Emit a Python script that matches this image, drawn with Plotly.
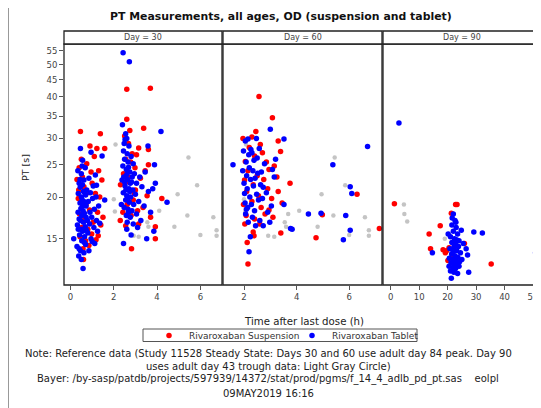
import plotly.graph_objects as go

# ---------------- data (time after last dose [h], PT [s]) ----------------
SUSP_D30 = [(0.46,31.5),(1.38,31.0),(0.90,28.5),(1.22,28.0),(1.58,28.0),(0.50,26.0),(0.75,25.2),(1.10,26.5),
            (0.40,24.5),(0.55,23.0),(0.95,23.8),(1.30,24.0),(0.38,21.0),(0.62,21.5),(1.00,22.0),(1.45,22.5),
            (0.48,19.5),(0.72,19.0),(1.15,20.5),(1.35,20.0),(0.42,17.8),(0.66,17.2),(0.88,18.3),(1.25,18.0),
            (0.52,16.2),(0.80,16.0),(1.05,16.8),(1.40,16.5),(0.44,15.2),(0.70,14.8),(0.98,15.5),(1.28,15.3),
            (0.58,14.0),(0.85,14.3),(0.60,13.0),(0.36,19.8),(0.30,22.6),(1.50,17.4),(0.78,20.6),(1.18,14.9),
            (2.60,42.2),(3.69,42.5),(2.60,34.3),(2.74,31.7),(3.38,32.2),(2.50,30.5),(3.15,28.1),(3.60,27.8),
            (2.68,29.0),(2.85,27.0),(2.55,26.0),(2.98,24.5),(3.60,25.0),(2.78,25.5),(2.45,23.5),(3.23,22.8),
            (2.31,21.8),(2.70,22.2),(3.00,21.0),(3.54,20.2),(4.22,19.8),(2.90,19.6),(2.62,19.0),(3.35,18.6),
            (2.42,18.0),(2.80,17.6),(3.10,18.2),(2.30,17.0),(3.15,16.6),(3.92,16.3),(2.55,16.4),(3.92,15.0),
            (2.82,14.0),(3.70,17.4),(2.95,20.5),(3.45,24.0),(2.65,23.0),(3.05,26.8)]
TAB_D30 = [(0.15,15.0),(0.30,14.2),(0.32,16.5),(0.35,18.0),(0.36,20.5),(0.38,13.3),(0.40,22.0),(0.40,17.2),
           (0.42,15.4),(0.44,19.2),(0.45,21.4),(0.46,28.0),(0.46,13.8),(0.48,16.0),(0.48,18.5),(0.50,20.0),
           (0.50,23.5),(0.52,14.8),(0.52,17.6),(0.54,19.6),(0.55,21.8),(0.56,15.8),(0.58,12.2),(0.58,18.2),
           (0.60,16.8),(0.60,20.8),(0.62,13.6),(0.62,22.5),(0.64,17.9),(0.65,15.2),(0.66,19.0),(0.68,24.5),
           (0.68,16.3),(0.70,14.4),(0.70,20.3),(0.72,18.8),(0.75,21.0),(0.78,17.0),(0.80,15.6),(0.82,19.4),
           (0.85,22.8),(0.88,16.6),(0.90,18.0),(0.92,20.6),(0.95,27.3),(0.95,15.0),(0.98,17.4),(1.00,14.7),
           (1.02,19.8),(1.05,21.6),(1.08,16.2),(1.10,18.4),(1.12,14.5),(1.15,23.3),(1.18,20.0),(1.20,17.0),
           (1.25,15.8),(1.46,26.6),(1.58,19.6),(1.30,18.8),(1.35,16.7),(1.20,21.7),(0.85,13.8),(0.34,24.0),
           (0.56,25.8),(0.40,14.0),(0.50,13.0),(0.64,14.6),(0.74,15.9),(0.36,16.0),(0.46,17.0),(0.56,18.8),
           (0.66,20.6),(0.44,22.6),(0.54,24.8),(0.72,17.4),(0.62,19.4),
           (2.43,54.3),(2.72,51.0),(2.40,33.0),(2.55,31.0),(2.60,30.0),(2.48,29.0),(2.70,28.5),(3.58,28.5),
           (4.18,31.5),(2.45,27.5),(2.62,27.0),(2.80,26.5),(2.50,26.0),(2.66,25.5),(2.90,25.2),(3.88,25.0),
           (2.42,24.8),(2.58,24.2),(2.74,23.8),(2.95,23.5),(3.20,23.0),(2.46,23.0),(2.64,22.6),(2.82,22.2),
           (3.05,22.0),(3.92,22.0),(2.52,21.6),(2.70,21.2),(2.88,21.0),(3.30,21.5),(2.44,20.6),(2.60,20.2),
           (2.78,20.0),(3.00,20.4),(3.60,20.8),(2.55,19.6),(2.72,19.3),(2.92,19.0),(3.15,19.4),(4.46,19.3),
           (2.48,18.6),(2.66,18.4),(2.84,18.2),(3.40,18.8),(2.58,17.6),(2.76,17.4),(3.05,17.8),(3.70,18.0),
           (2.62,16.8),(2.90,16.6),(3.25,17.0),(2.60,16.0),(3.85,15.8),(3.52,15.0),(2.45,14.5),(2.80,15.4),
           (3.10,16.2),(2.38,22.5),(2.35,19.0),(3.45,23.8),(3.80,21.2),(2.52,29.8),(2.68,24.6),(2.85,23.0),
           (2.56,21.0),(2.64,19.8),(2.74,20.8),(2.50,22.2),(2.60,23.4),(2.76,22.0),(2.68,18.0)]

SUSP_D60 = [(2.57,40.1),(3.08,34.6),(2.45,31.5),(1.96,30.0),(2.30,30.3),(3.30,29.5),(2.62,28.8),(3.39,27.4),
            (2.20,28.2),(2.40,26.6),(2.70,27.2),(2.05,25.6),(2.85,25.5),(3.15,24.8),(2.15,24.0),(2.50,23.2),
            (2.95,24.2),(3.75,22.0),(2.02,22.5),(2.35,21.8),(2.75,22.6),(3.25,23.0),(2.10,20.8),(2.55,20.2),
            (2.90,21.2),(3.30,20.8),(1.98,19.0),(2.30,19.4),(2.65,18.6),(3.05,19.8),(3.45,19.2),(2.08,17.6),
            (2.40,17.2),(2.80,17.8),(3.10,17.4),(2.03,16.6),(2.35,15.7),(2.38,15.3),(3.40,15.6),(4.74,15.1),
            (4.98,17.7),(6.30,20.4),(7.15,16.1),(2.15,12.6),(2.12,14.6),(2.60,16.6),(2.95,18.3)]
TAB_D60 = [(1.58,25.0),(1.95,24.0),(1.98,27.5),(2.00,22.0),(2.02,20.5),(2.04,19.2),(2.05,29.5),(2.06,17.8),
           (2.08,25.5),(2.10,23.2),(2.12,21.2),(2.14,18.6),(2.15,29.9),(2.16,16.8),(2.18,26.8),(2.19,13.7),
           (2.20,24.5),(2.22,20.0),(2.24,15.2),(2.25,22.6),(2.28,19.0),(2.30,27.2),(2.32,17.4),(2.34,24.0),
           (2.36,21.6),(2.38,25.8),(2.40,18.2),(2.42,22.8),(2.44,16.4),(2.47,30.0),(2.48,20.4),(2.50,26.2),
           (2.52,23.6),(2.55,19.6),(2.58,28.0),(2.60,17.0),(2.63,21.8),(2.66,23.8),(2.70,19.8),(2.73,21.4),
           (2.73,16.4),(2.78,25.2),(2.85,20.6),(2.90,18.0),(2.98,16.8),(3.00,32.0),(3.04,18.8),(3.08,24.2),
           (3.15,23.0),(3.20,26.0),(3.52,29.9),(3.52,19.0),(3.77,16.1),(3.83,16.0),(4.45,17.8),(4.93,17.9),
           (5.38,25.0),(5.78,14.9),(5.87,17.6),(6.04,15.9),(6.04,21.5),(6.10,20.5),(6.70,28.4),(2.26,27.8),
           (2.09,18.4)]

SUSP_D90 = [(1.3,19.1),(22.8,19.0),(23.3,19.0),(21.3,17.9),(17.4,16.4),(13.5,15.5),(14.0,14.0),(18.4,13.9),
            (19.6,13.8),(20.1,12.9),(25.9,14.5),(35.3,12.6),(21.5,13.2),(20.5,14.1),(19.2,13.6),(23.6,12.7)]
TAB_D90 = [(2.9,33.4),(14.65,13.6),(50.9,13.6),(29.2,15.7),(32.2,15.6),(27.4,11.9),(21.3,11.4),(26.5,14.0),
           (27.0,13.4),(22.0,17.8),(22.6,17.0),(21.5,16.5),(23.0,16.2),(22.0,15.8),(23.5,15.5),(21.0,15.2),
           (22.4,15.0),(24.0,14.8),(21.5,14.6),(22.8,14.5),(23.8,14.2),(20.8,14.0),(22.2,13.9),(23.2,13.8),
           (24.5,13.6),(21.4,13.5),(22.6,13.3),(23.6,13.2),(20.6,13.1),(22.0,13.0),(23.0,12.9),(24.2,12.8),
           (21.2,12.7),(22.4,12.6),(23.4,12.5),(20.5,12.4),(21.8,12.3),(22.8,12.2),(24.0,12.4),(21.0,12.0),
           (22.2,11.9),(23.5,11.8),(25.0,13.0),(25.5,14.5),(20.2,15.5),(22.9,16.8),(21.6,17.3),(24.8,15.9),
           (22.3,14.2),(23.1,14.9),(21.9,13.6)]

# reference data (light gray circles): adult day 84 peak (Days 30/60), day 43 trough (Day 90)
REF_PEAK = [(2.0,19.7),(2.05,18.1),(2.08,28.8),(2.92,15.3),(3.15,15.2),(3.55,16.8),(3.6,16.3),(3.68,17.8),
            (4.1,18.2),(4.8,16.3),(4.95,20.4),(5.4,17.6),(5.45,26.3),(5.85,21.7),(6.0,15.4),(6.6,17.4),
            (6.75,15.9),(6.75,15.3)]
REF_TROUGH = [(4.65,19.0),(4.8,17.8),(5.8,16.9),(19.0,15.0)]

DAYS = ["Day = 30", "Day = 60", "Day = 90"]
Y_TICKS = [15, 20, 25, 30, 35, 40, 45, 50, 55]
X_TICKS = [[0, 2, 4, 6], [2, 4, 6], [0, 10, 20, 30, 40, 50]]
X_RANGES = [[-0.3, 7.0], [1.2, 7.25], [-2.7, 52.8]]

TITLE = "PT Measurements, all ages, OD (suspension and tablet)"
NOTES = ["Note: Reference data (Study 11528 Steady State: Days 30 and 60 use adult day 84 peak. Day 90",
         "uses adult day 43 trough data: Light Gray Circle)",
         "Bayer: /by-sasp/patdb/projects/597939/14372/stat/prod/pgms/f_14_4_adlb_pd_pt.sas    eolpl",
         "09MAY2019 16:16"]

# ---------------- layout helpers ----------------
# page has an 8px body margin: figure covers page pixels 8..541 x 8..408
OFF = 8
W, H = 541 - OFF, 408 - OFF
def px(x): return (x - OFF) / W
def py(y): return 1 - (y - OFF) / H

FONT = "DejaVu Sans, Verdana, sans-serif"
panels_px = [(64, 222), (223, 382), (383, 541)]
plot_top, plot_bot, strip_top = 44, 285, 31

fig = go.Figure()
axes = ["x", "x2", "x3"]
ref_sets = [REF_PEAK, REF_PEAK, REF_TROUGH]
susp_sets = [SUSP_D30, SUSP_D60, SUSP_D90]
tab_sets = [TAB_D30, TAB_D60, TAB_D90]

for i in range(3):
    r = ref_sets[i]
    fig.add_trace(go.Scatter(x=[p[0] for p in r], y=[p[1] for p in r], mode="markers", xaxis=axes[i], yaxis="y",
                             marker=dict(symbol="circle", size=4.5, color="#C4C4C4"), showlegend=False))
for i in range(3):
    s = susp_sets[i]
    fig.add_trace(go.Scatter(x=[p[0] for p in s], y=[p[1] for p in s], mode="markers", xaxis=axes[i], yaxis="y",
                             name="Rivaroxaban Suspension", legendgroup="s", showlegend=(i == 0),
                             marker=dict(symbol="circle", size=5.5, color="#FF0000")))
for i in range(3):
    t = tab_sets[i]
    fig.add_trace(go.Scatter(x=[p[0] for p in t], y=[p[1] for p in t], mode="markers", xaxis=axes[i], yaxis="y",
                             name="Rivaroxaban Tablet", legendgroup="t", showlegend=(i == 0),
                             marker=dict(symbol="circle", size=5.5, color="#0000FF")))

xcommon = dict(showgrid=False, zeroline=False, showline=False, ticks="outside", ticklen=4,
               tickcolor="#555", tickfont=dict(family=FONT, size=8.5, color="#444"), anchor="y")
layout = dict(
    width=W, height=H, margin=dict(l=0, r=0, t=0, b=0), paper_bgcolor="white", plot_bgcolor="white",
    showlegend=True,
    yaxis=dict(type="log", range=[1.037, 1.761], domain=[py(plot_bot), py(plot_top)], anchor="x",
               tickvals=Y_TICKS, ticktext=[str(v) for v in Y_TICKS], showgrid=False, zeroline=False,
               showline=False, ticks="outside", ticklen=4, tickcolor="#555",
               tickfont=dict(family=FONT, size=8.5, color="#444")),
    legend=dict(orientation="h", x=px(149), y=py(335.5), xanchor="left", yanchor="middle",
                borderwidth=0, bgcolor="rgba(0,0,0,0)",
                font=dict(family=FONT, size=9, color="#333"), itemwidth=30, tracegroupgap=0,
                entrywidth=98, entrywidthmode="pixels"),
)
for i in range(3):
    key = "xaxis" if i == 0 else f"xaxis{i+1}"
    d = dict(xcommon)
    d.update(domain=[px(panels_px[i][0]), px(panels_px[i][1])], range=X_RANGES[i],
             tickvals=X_TICKS[i], ticktext=[str(v) for v in X_TICKS[i]])
    layout[key] = d
fig.update_layout(**layout)

shapes = []
annotations = []
# outer gray frame
shapes.append(dict(type="line", xref="paper", yref="paper", x0=px(8.5), x1=px(545), y0=py(3), y1=py(3),
                   line=dict(color="#999", width=1)))
shapes.append(dict(type="line", xref="paper", yref="paper", x0=px(8.5), x1=px(8.5), y0=py(3), y1=py(412),
                   line=dict(color="#999", width=1)))
# legend frame
shapes.append(dict(type="rect", xref="paper", yref="paper", x0=px(143), x1=px(417), y0=py(341.5), y1=py(329),
                   line=dict(color="#555", width=1)))
for i, (a, b) in enumerate(panels_px):
    shapes.append(dict(type="rect", xref="paper", yref="paper", x0=px(a), x1=px(b), y0=py(plot_bot), y1=py(plot_top),
                       line=dict(color="#222", width=1.3)))
    shapes.append(dict(type="rect", xref="paper", yref="paper", x0=px(a), x1=px(b), y0=py(plot_top), y1=py(strip_top),
                       line=dict(color="#222", width=1.3), fillcolor="white"))
    annotations.append(dict(text=DAYS[i], xref="paper", yref="paper", x=px((a + b) / 2), y=py(37.5),
                            showarrow=False, font=dict(family=FONT, size=8, color="#444"),
                            xanchor="center", yanchor="middle"))

annotations.append(dict(text="<b>" + TITLE + "</b>", xref="paper", yref="paper", x=px(281), y=py(17),
                        showarrow=False, font=dict(family=FONT, size=10.9, color="#111"),
                        xanchor="center", yanchor="middle"))
annotations.append(dict(text="PT [s]", xref="paper", yref="paper", x=px(25), y=py(168), textangle=-90,
                        showarrow=False, font=dict(family=FONT, size=9.5, color="#222"),
                        xanchor="center", yanchor="middle"))
annotations.append(dict(text="Time after last dose (h)", xref="paper", yref="paper", x=px(304), y=py(321),
                        showarrow=False, font=dict(family=FONT, size=10.2, color="#222"),
                        xanchor="center", yanchor="middle"))
for txt, yy in zip(NOTES, [353, 366, 379, 393]):
    annotations.append(dict(text=txt, xref="paper", yref="paper", x=px(268), y=py(yy),
                            showarrow=False, font=dict(family=FONT, size=10, color="#222"),
                            xanchor="center", yanchor="middle"))
fig.update_layout(shapes=shapes, annotations=annotations)

fig.write_html("out.html")
